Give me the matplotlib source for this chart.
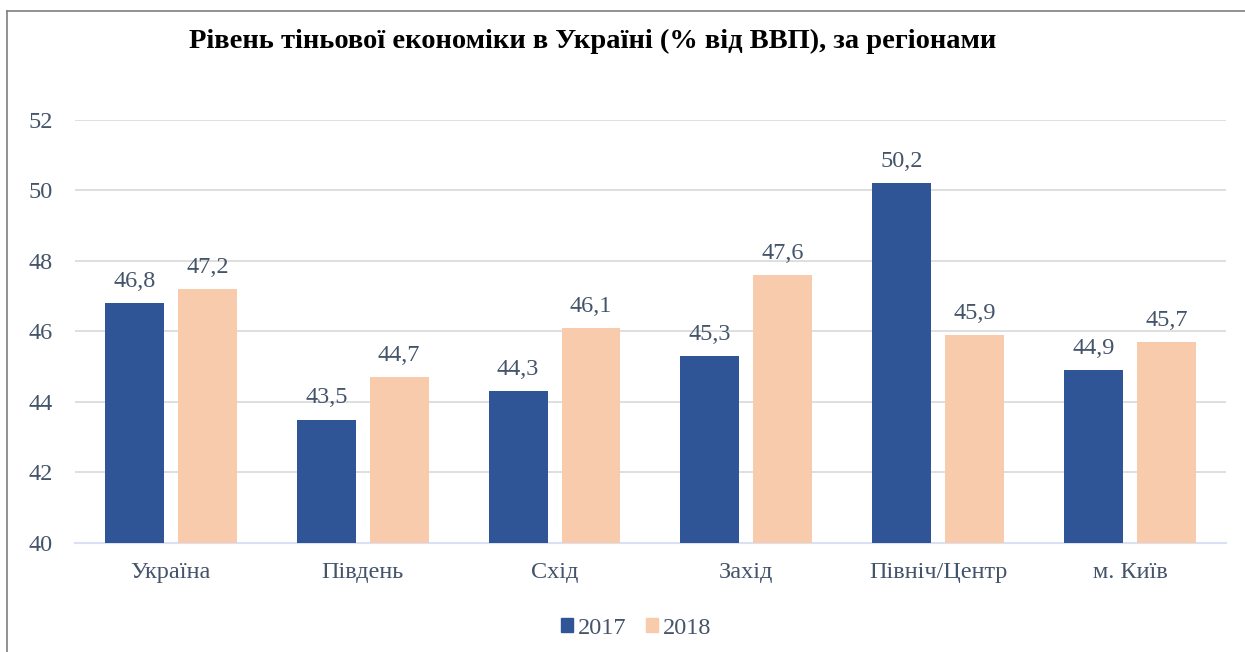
import matplotlib
matplotlib.use("Agg")
import matplotlib.pyplot as plt
import numpy as np
from matplotlib.lines import Line2D

categories = ["Україна", "Південь", "Схід", "Захід", "Північ/Центр", "м. Київ"]
values_2017 = [46.8, 43.5, 44.3, 45.3, 50.2, 44.9]
values_2018 = [47.2, 44.7, 46.1, 47.6, 45.9, 45.7]
series_labels = ["2017", "2018"]
title = "Рівень тіньової економіки в Україні (% від ВВП), за регіонами"

plt.rcParams['font.family'] = ['Liberation Serif', 'DejaVu Serif']
text_color = "#44546A"
c17 = "#2F5597"
c18 = "#F8CBAD"

fig = plt.figure(figsize=(12.45, 6.52), dpi=100)
ax = fig.add_axes([0.0602, 0.1672, 0.9245, 0.6488])

x = np.arange(len(categories))
w = 0.307
off = 0.19
b1 = ax.bar(x - off, values_2017, w, bottom=0, color=c17, label=series_labels[0], zorder=3)
b2 = ax.bar(x + off, values_2018, w, bottom=0, color=c18, label=series_labels[1], zorder=3)

for bars, vals in ((b1, values_2017), (b2, values_2018)):
    for r, v in zip(bars, vals):
        ax.annotate(f"{v:.1f}".replace(".", ","), (r.get_x() + r.get_width() / 2, v),
                    xytext=(0, 8), textcoords="offset points", ha="center", va="bottom",
                    fontsize=17.5, color=text_color)

ax.set_ylim(40, 52)
ax.set_xlim(-0.5, len(categories) - 0.5)
ax.set_yticks(np.arange(40, 53, 2))
ax.tick_params(axis='y', length=0, labelsize=17.5, labelcolor=text_color, pad=16)
ax.set_xticks(x)
ax.set_xticklabels(categories)
ax.tick_params(axis='x', length=0, labelsize=17.5, labelcolor=text_color, pad=14)
ax.grid(axis='y', color="#D9D9D9", linewidth=1.2, zorder=0)
for s in ["top", "right", "left"]:
    ax.spines[s].set_visible(False)
ax.spines["bottom"].set_color("#D9E1F2")
ax.spines["bottom"].set_linewidth(1.5)

fig.text(0.476, 0.936, title, ha="center", va="center", fontsize=20.5, fontweight="bold", color="black")

handles = [plt.Rectangle((0, 0), 1, 1, color=c17), plt.Rectangle((0, 0), 1, 1, color=c18)]
fig.legend(handles, series_labels, loc="center", bbox_to_anchor=(0.511, 0.036), ncol=2,
           frameon=False, fontsize=17.5, labelcolor=text_color, handlelength=0.5, handleheight=0.5,
           handletextpad=0.2, columnspacing=0.8)

fig.add_artist(Line2D([7/1245, 7/1245], [0, 1 - 11/652], color="#7F7F7F", linewidth=1.2, transform=fig.transFigure))
fig.add_artist(Line2D([7/1245, 1], [1 - 11/652, 1 - 11/652], color="#7F7F7F", linewidth=1.2, transform=fig.transFigure))

fig.savefig("out.png", dpi=100)
